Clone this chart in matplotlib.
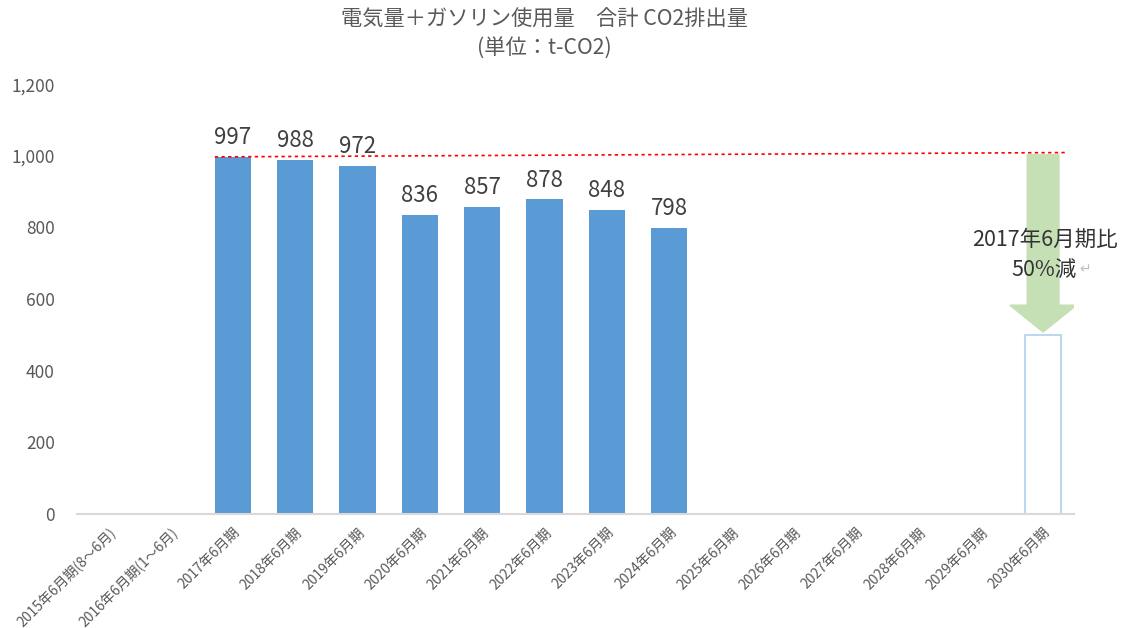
import matplotlib.pyplot as plt
from matplotlib.patches import FancyArrow

plt.rcParams['font.family'] = ['Noto Sans CJK JP', 'DejaVu Sans']

# Data
categories = ['2015年6月期(8～6月)', '2016年6月期(1～6月)', '2017年6月期', '2018年6月期',
              '2019年6月期', '2020年6月期', '2021年6月期', '2022年6月期', '2023年6月期',
              '2024年6月期', '2025年6月期', '2026年6月期', '2027年6月期', '2028年6月期',
              '2029年6月期', '2030年6月期']
values = [None, None, 997, 988, 972, 836, 857, 878, 848, 798,
          None, None, None, None, None, None]
target_label = '2030年6月期'
target_value = 500
baseline = 997
yticks = [0, 200, 400, 600, 800, 1000, 1200]

fig = plt.figure(figsize=(11.23, 6.28), dpi=100)
ax = fig.add_axes([0.0686, 0.1815, 0.888, 0.6845])

x = list(range(len(categories)))
xs = [i for i, v in zip(x, values) if v is not None]
vs = [v for v in values if v is not None]
ax.bar(xs, vs, width=0.58, color='#5B9BD5', zorder=2)
for xi, v in zip(xs, vs):
    ax.text(xi, v + 22, str(v), ha='center', va='bottom', fontsize=16, color='#404040')

# target (outlined) bar
ti = categories.index(target_label)
ax.bar(ti, target_value, width=0.58, facecolor='white', edgecolor='#BDD7EE', linewidth=1.5, zorder=2)

# baseline dotted line
ax.plot([xs[0] - 0.29, ti + 0.35], [baseline, baseline + 12], color='#FF0000',
        linestyle=(0, (2, 2)), linewidth=1.2, zorder=3)

# reduction arrow
arrow = FancyArrow(ti, 1003, 0, -(1003 - target_value - 8), width=0.51, head_width=1.07,
                   head_length=75, length_includes_head=True, color='#C5E0B4', zorder=4)
ax.add_patch(arrow)
ax.text(ti + 0.03, 765, '2017年6月期比', ha='center', va='center', fontsize=15.5,
        color='#333333', zorder=5)
ax.text(ti + 0.02, 682, '50%減', ha='center', va='center', fontsize=15.5, color='#333333', zorder=5)
ax.text(ti + 0.67, 682, '↵', ha='center', va='center', fontsize=10, color='#BFBFBF', zorder=5)

ax.set_xlim(-0.5, len(categories) - 0.5)
ax.set_ylim(0, 1200)
ax.set_yticks(yticks)
ax.set_yticklabels([f'{t:,}' for t in yticks], fontsize=12.5, color='#595959')
ax.set_xticks(x)
ax.set_xticklabels(categories, rotation=45, ha='right', rotation_mode='anchor',
                   fontsize=10, color='#595959')
ax.tick_params(axis='y', length=0, pad=16)
ax.tick_params(axis='x', length=0, pad=8)
for s in ['top', 'right', 'left']:
    ax.spines[s].set_visible(False)
ax.spines['bottom'].set_color('#D9D9D9')
ax.spines['bottom'].set_linewidth(1.5)

fig.text(0.485, 0.968, '電気量＋ガソリン使用量　合計 CO2排出量', ha='center', va='center',
         fontsize=15.3, color='#595959')
fig.text(0.485, 0.923, '(単位：t-CO2)', ha='center', va='center', fontsize=15.3, color='#595959')

fig.savefig('out.png', dpi=100)
